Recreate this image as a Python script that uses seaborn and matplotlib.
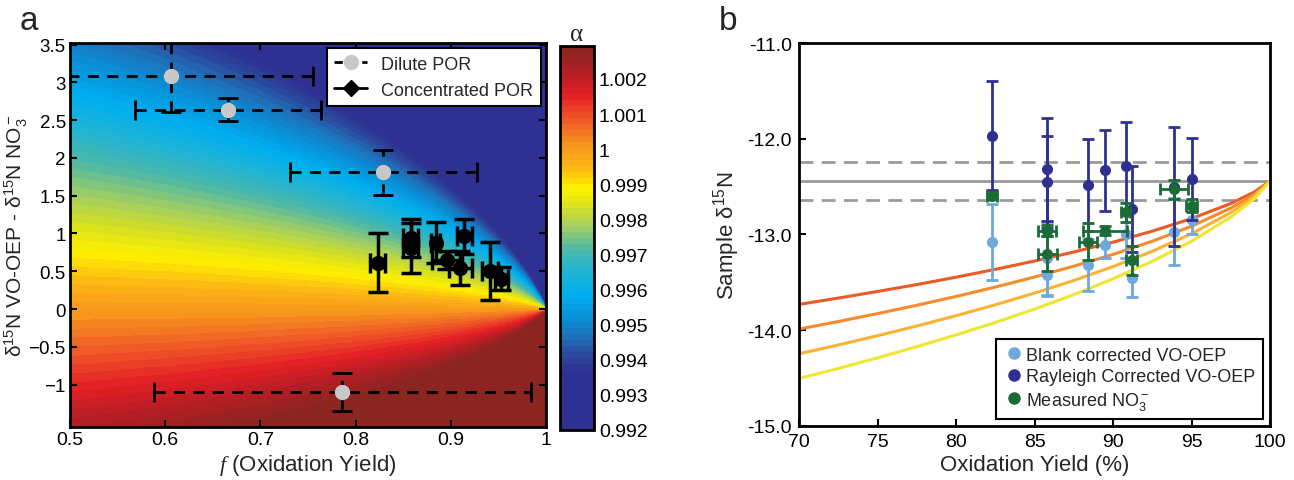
import numpy as np
import pandas as pd
import matplotlib
matplotlib.use("Agg")
import matplotlib.pyplot as plt
import seaborn as sns
from matplotlib.colors import LinearSegmentedColormap
from matplotlib.ticker import FuncFormatter, FixedLocator
from matplotlib.lines import Line2D

# ---------------- Panel a data ----------------
dil_f = [0.606, 0.666, 0.829, 0.786]
dil_d = [3.09, 2.64, 1.81, -1.095]
dil_ferr = [0.149, 0.098, 0.098, 0.198]
dil_derr = [0.48, 0.157, 0.30, 0.25]

con_f = [0.823, 0.858, 0.858, 0.884, 0.896, 0.914, 0.910, 0.941, 0.953]
con_d = [0.61, 0.944, 0.806, 0.88, 0.654, 0.965, 0.543, 0.504, 0.404]
con_ferr = [0.008, 0.008, 0.008, 0.005, 0.016, 0.008, 0.012, 0.008, 0.007]
con_derr = [0.39, 0.25, 0.33, 0.27, 0.12, 0.23, 0.22, 0.38, 0.15]

cbar_ticks = [0.992, 0.993, 0.994, 0.995, 0.996, 0.997, 0.998, 0.999, 1.0, 1.001, 1.002]

# ---------------- Panel b data ----------------
blank_x = [82.3, 85.8, 85.8, 88.4, 89.5, 90.8, 91.2, 93.9, 95.0]
blank_y = [-13.08, -13.25, -13.42, -13.32, -13.11, -13.00, -13.45, -12.97, -12.85]
blank_err = [0.40, 0.38, 0.22, 0.27, 0.14, 0.25, 0.20, 0.35, 0.15]

ray_x = [82.3, 85.8, 85.8, 88.4, 89.5, 90.8, 91.2, 93.9, 95.0]
ray_y = [-11.97, -12.32, -12.45, -12.48, -12.33, -12.28, -12.73, -12.50, -12.42]
ray_err = [0.57, 0.54, 0.48, 0.48, 0.42, 0.46, 0.45, 0.62, 0.43]

meas_x = [82.3, 85.8, 85.8, 88.4, 89.5, 90.8, 91.2, 93.9, 95.0]
meas_y = [-12.595, -12.96, -13.20, -13.075, -12.96, -12.77, -13.27, -12.53, -12.70]
meas_xerr = [0.32, 0.57, 0.60, 0.55, 1.40, 0.30, 0.35, 0.90, 0.35]
meas_yerr = [0.02, 0.06, 0.18, 0.19, 0.05, 0.10, 0.15, 0.10, 0.07]

ref_mean = -12.44
ref_sd = 0.20

curve_x = [70, 72.5, 75, 77.5, 80, 82.5, 85, 87.5, 90, 92.5, 95, 97.5, 99, 100]
curve_1 = [-13.730, -13.664, -13.595, -13.523, -13.446, -13.364, -13.277, -13.183, -13.080, -12.965, -12.834, -12.676, -12.556, -12.44]
curve_2 = [-13.988, -13.909, -13.826, -13.739, -13.647, -13.549, -13.444, -13.331, -13.208, -13.070, -12.913, -12.724, -12.580, -12.44]
curve_3 = [-14.246, -14.154, -14.057, -13.956, -13.848, -13.734, -13.612, -13.480, -13.335, -13.175, -12.992, -12.771, -12.603, -12.44]
curve_4 = [-14.504, -14.399, -14.288, -14.172, -14.049, -13.919, -13.779, -13.628, -13.463, -13.280, -13.071, -12.818, -12.626, -12.44]
curve_colors = ["#EE5A24", "#F68B2C", "#F9B233", "#EFE62F"]

# ---------------- Style ----------------
sns.set_theme(style="ticks")
plt.rcParams["font.family"] = ["Liberation Sans", "DejaVu Sans"]
plt.rcParams["mathtext.fontset"] = "custom"
plt.rcParams["mathtext.rm"] = "Liberation Sans"
plt.rcParams["mathtext.it"] = "Liberation Serif:italic"
plt.rcParams["mathtext.default"] = "regular"
plt.rcParams["axes.unicode_minus"] = True

fig = plt.figure(figsize=(12.94, 4.81), dpi=100)
axa = fig.add_axes([0.0541, 0.1102, 0.3679, 0.7983])
cax = fig.add_axes([0.4328, 0.1046, 0.0263, 0.7984])
axb = fig.add_axes([0.6175, 0.1123, 0.3640, 0.7962])

# colormap resembling printed jet
anchors = [(0.0, "#2E3192"), (0.15, "#2E3192"), (0.195, "#2B4A9F"), (0.236, "#1F6FB8"),
           (0.288, "#0A8FD6"), (0.35, "#00AEEF"), (0.41, "#1FB5D6"), (0.47, "#4DB8A8"),
           (0.531, "#A3CF62"), (0.583, "#D7E021"), (0.63, "#FFF200"), (0.688, "#FDB515"),
           (0.748, "#F7941D"), (0.81, "#F05A28"), (0.878, "#E31E25"), (0.94, "#B01F24"),
           (1.0, "#8B2520")]
cmap = LinearSegmentedColormap.from_list("pjet", anchors, N=64)
vmin, vmax = 0.992, 1.00295

fg = np.linspace(0.5, 0.99999, 700)
dg = np.linspace(-1.56, 3.52, 600)
F, D = np.meshgrid(fg, dg)
G = (1 - F) * np.log(1 - F) / F
A = 1 + D / (1000 * G)
A = np.clip(A, vmin, vmax)
im = axa.imshow(A, origin="lower", extent=[0.5, 1.0, -1.56, 3.52], aspect="auto",
                cmap=cmap, vmin=vmin, vmax=vmax, interpolation="nearest")

eb = axa.errorbar(dil_f, dil_d, xerr=dil_ferr, yerr=dil_derr, fmt="o", color="#C8C8C8",
                  ecolor="black", elinewidth=2, capsize=7, capthick=2, markersize=10,
                  mec="#C8C8C8", zorder=3)
for col in eb[2]:
    col.set_linestyle((0, (4, 3)))
axa.errorbar(con_f, con_d, xerr=con_ferr, yerr=con_derr, fmt="o", color="black",
             ecolor="black", elinewidth=2.5, capsize=7, capthick=2.5, markersize=10,
             zorder=4)

axa.set_xlim(0.5, 1.0)
axa.set_ylim(-1.56, 3.52)
axa.xaxis.set_major_locator(FixedLocator([0.5, 0.6, 0.7, 0.8, 0.9, 1.0]))
axa.yaxis.set_major_locator(FixedLocator([-1, -0.5, 0, 0.5, 1, 1.5, 2, 2.5, 3, 3.5]))
fmt_g = FuncFormatter(lambda v, p: ("%g" % round(v, 3)).replace("-", "\u2212"))
axa.xaxis.set_major_formatter(fmt_g)
axa.yaxis.set_major_formatter(fmt_g)
axa.tick_params(direction="in", top=True, right=True, length=5, width=1.5,
                labelsize=14, colors="black", pad=3)
axa.tick_params(axis="y", labelsize=13.5)
for s in axa.spines.values():
    s.set_linewidth(2)
    s.set_color("black")
axa.set_xlabel(r"$\mathit{f}$ (Oxidation Yield)", fontsize=16, labelpad=3)
axa.set_ylabel(r"δ$^{15}$N VO-OEP - δ$^{15}$N NO$_3^-$", fontsize=15)
axa.yaxis.set_label_coords(-0.083, 0.5)

ha1 = Line2D([], [], color="black", lw=2, ls=(0, (3, 2)), marker="o", markersize=10,
             mfc="#C8C8C8", mec="#C8C8C8")
ha2 = Line2D([], [], color="black", lw=2, marker="D", markersize=8,
             mfc="black", mec="black")
leg = axa.legend([ha1, ha2], ["Dilute POR", "Concentrated POR"], loc="upper right",
                 fontsize=13, frameon=True, fancybox=False, edgecolor="black",
                 framealpha=1, borderaxespad=0.3, handlelength=1.8)
leg.get_frame().set_linewidth(1.5)

cb = fig.colorbar(im, cax=cax, ticks=cbar_ticks)
cb.ax.yaxis.set_major_formatter(FuncFormatter(lambda v, p: "%g" % round(v, 4)))
cb.ax.tick_params(direction="in", length=5, width=1.5, labelsize=14, colors="black")
cb.outline.set_linewidth(2)
cb.outline.set_edgecolor("black")
cax.set_title("α", fontsize=18, family="Liberation Serif", pad=4)

fig.text(0.022, 0.955, "a", fontsize=24, ha="center", va="center")
fig.text(0.563, 0.955, "b", fontsize=24, ha="center", va="center")

# ---------------- Panel b ----------------
rows = []
for i, ys in enumerate([curve_1, curve_2, curve_3, curve_4]):
    for x, y in zip(curve_x, ys):
        rows.append({"x": x, "y": y, "c": str(i)})
curves = pd.DataFrame(rows)
sns.lineplot(data=curves, x="x", y="y", hue="c", palette=curve_colors, ax=axb,
             linewidth=2.2, legend=False, zorder=2)

axb.axhline(ref_mean, color="#9A9A9A", lw=2, zorder=1)
axb.axhline(ref_mean + ref_sd, color="#9A9A9A", lw=2, ls=(0, (5, 3)), zorder=1)
axb.axhline(ref_mean - ref_sd, color="#9A9A9A", lw=2, ls=(0, (5, 3)), zorder=1)

c_blank, c_ray, c_meas = "#6FA8DC", "#2E3192", "#1A6B35"
axb.errorbar(blank_x, blank_y, yerr=blank_err, fmt="o", color=c_blank, ecolor=c_blank,
             elinewidth=2, capsize=4, capthick=2, markersize=7, zorder=3)
axb.errorbar(ray_x, ray_y, yerr=ray_err, fmt="o", color=c_ray, ecolor=c_ray,
             elinewidth=2, capsize=4, capthick=2, markersize=7, zorder=4)
axb.errorbar(meas_x, meas_y, xerr=meas_xerr, yerr=meas_yerr, fmt="o", color=c_meas,
             ecolor=c_meas, elinewidth=2, capsize=4, capthick=2, markersize=7, zorder=5)

axb.set_xlim(70, 100)
axb.set_ylim(-15, -11)
axb.xaxis.set_major_locator(FixedLocator([70, 75, 80, 85, 90, 95, 100]))
axb.yaxis.set_major_locator(FixedLocator([-15, -14, -13, -12, -11]))
axb.yaxis.set_major_formatter(FuncFormatter(lambda v, p: "%.1f" % v))
axb.xaxis.set_major_formatter(FuncFormatter(lambda v, p: "%d" % v))
axb.tick_params(direction="in", length=5, width=1.5, labelsize=14, colors="black", pad=5)
for s in axb.spines.values():
    s.set_linewidth(2)
    s.set_color("black")
axb.set_xlabel("Oxidation Yield (%)", fontsize=16, labelpad=3)
axb.set_ylabel(r"Sample δ$^{15}$N", fontsize=16, labelpad=4)

handles = [Line2D([], [], ls="none", marker="o", color=c, markersize=8) for c in (c_blank, c_ray, c_meas)]
labels = ["Blank corrected VO-OEP", "Rayleigh Corrected VO-OEP", r"Measured NO$_3^-$"]
legb = axb.legend(handles, labels, loc="lower right", fontsize=13, frameon=True, fancybox=False,
                  edgecolor="black", framealpha=1, borderaxespad=0.4, handletextpad=0.1,
                  handlelength=1.2, labelspacing=0.25)
legb.get_frame().set_linewidth(1.5)

fig.savefig("out.png", dpi=100)
